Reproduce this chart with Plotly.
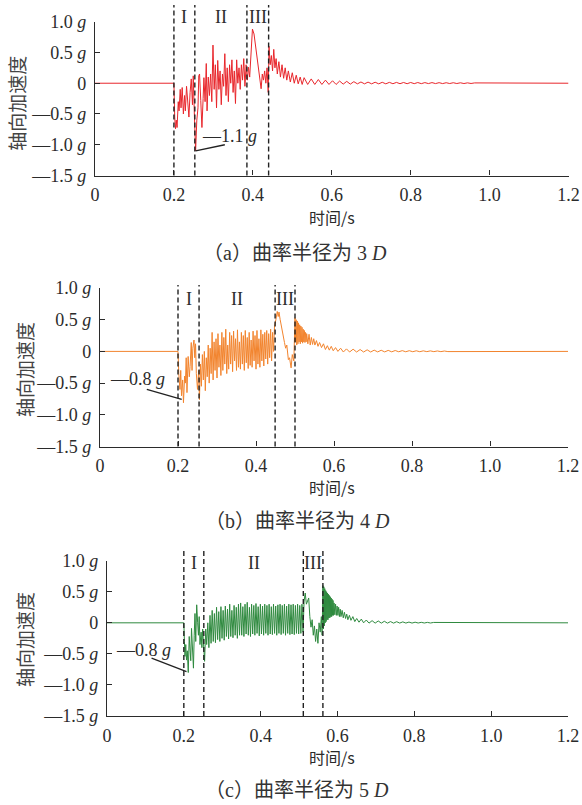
import plotly.graph_objects as go

# ---------------- data ----------------
x_tick_vals = [0, 0.2, 0.4, 0.6, 0.8, 1.0, 1.2]
x_tick_text = ["0", "0.2", "0.4", "0.6", "0.8", "1.0", "1.2"]
y_tick_vals = [1.0, 0.5, 0, -0.5, -1.0, -1.5]
y_tick_text = ["1.0 <i>g</i>", "0.5 <i>g</i>", "0", "—0.5 <i>g</i>", "—1.0 <i>g</i>", "—1.5 <i>g</i>"]

# (time s, axial acceleration g)
red_samples = [
    (0, 0), (0.2, 0),
    (0.202, -0.55), (0.204, -0.74), (0.206, -0.6), (0.208, -0.72), (0.211, -0.3), (0.213, -0.45),
    (0.216, -0.1), (0.218, -0.4), (0.221, -0.07), (0.224, -0.5), (0.227, -0.2), (0.229, -0.45),
    (0.232, -0.05), (0.235, -0.3), (0.238, -0.55), (0.241, -0.15), (0.244, 0.07), (0.247, -0.35),
    (0.249, 0.12), (0.252, -0.55), (0.255, -1.1),
    (0.258, -0.6), (0.261, -0.4), (0.263, 0.12), (0.265, 0.15), (0.268, -0.28), (0.271, -0.72),
    (0.274, -0.25), (0.276, 0.09), (0.279, -0.3), (0.282, 0.32), (0.284, -0.45), (0.287, 0.1),
    (0.290, -0.2), (0.293, 0.15), (0.296, -0.3), (0.299, 0.62), (0.302, -0.1), (0.305, 0.3),
    (0.308, -0.4), (0.311, 0.37), (0.314, -0.1), (0.317, 0.2), (0.320, -0.35), (0.323, 0.15),
    (0.326, -0.05), (0.329, 0.48), (0.332, -0.2), (0.335, 0.25), (0.338, -0.3), (0.341, 0.3),
    (0.344, 0.0), (0.347, 0.38), (0.350, -0.15), (0.353, 0.2), (0.356, -0.33), (0.359, 0.38),
    (0.362, 0.0), (0.365, 0.25), (0.368, -0.1), (0.371, 0.3), (0.374, 0.05), (0.377, 0.4),
    (0.380, -0.05), (0.383, 0.3), (0.386, 0.05),
    (0.389, 0.26), (0.392, 0.1), (0.395, 0.45), (0.399, 0.88), (0.403, 0.8), (0.407, 0.6),
    (0.410, 0.48), (0.414, 0.3), (0.418, 0.1), (0.421, -0.09), (0.424, 0.15), (0.427, 0.05),
    (0.430, 0.2), (0.433, 0.0), (0.436, 0.25), (0.439, -0.15),
    (0.441, 0.6), (0.444, 0.3), (0.447, 0.45), (0.450, 0.2), (0.453, 0.55), (0.456, 0.25),
    (0.459, 0.4), (0.462, 0.15), (0.466, 0.35), (0.470, 0.1), (0.474, 0.3), (0.478, 0.08),
    (0.482, 0.25), (0.486, 0.05), (0.490, 0.2), (0.495, 0.02), (0.500, 0.17), (0.505, 0.0),
    (0.510, 0.13), (0.515, -0.01), (0.520, 0.1), (0.525, -0.02), (0.530, 0.09), (0.539, -0.02),
    (0.548, 0.07), (0.557, -0.02), (0.566, 0.06), (0.575, -0.02), (0.584, 0.05), (0.593, -0.02),
    (0.602, 0.04), (0.611, -0.02), (0.620, 0.035), (0.629, -0.015), (0.638, 0.03), (0.647, -0.015),
    (0.656, 0.025), (0.665, -0.01), (0.674, 0.02), (0.683, -0.01), (0.692, 0.018), (0.701, -0.01),
    (0.710, 0.016), (0.719, -0.01), (0.728, 0.015), (0.737, -0.01), (0.746, 0.014), (0.755, -0.008),
    (0.764, 0.013), (0.773, -0.008), (0.782, 0.012), (0.791, -0.008), (0.800, 0.012), (0.809, -0.007),
    (0.818, 0.011), (0.827, -0.007), (0.836, 0.01), (0.845, -0.006), (0.854, 0.01), (0.863, -0.006),
    (0.872, 0.009), (0.881, -0.006), (0.890, 0.008), (0.899, -0.005), (0.908, 0.008), (0.917, -0.005),
    (0.926, 0.007), (0.935, -0.005), (0.944, 0.006), (0.953, -0.004), (0.962, 0.005), (1.2, 0),
]

orange_samples = [
    (0, 0), (0.2, 0),
    (0.202, -0.35), (0.205, -0.6), (0.207, -0.3), (0.209, -0.7), (0.212, -0.45), (0.214, -0.81),
    (0.217, -0.39), (0.219, -0.5), (0.221, -0.1), (0.223, -0.65), (0.226, -0.08), (0.229, -0.4),
    (0.231, -0.24), (0.234, 0.14), (0.236, -0.3), (0.238, 0.05), (0.241, 0.18), (0.243, -0.1),
    (0.245, 0.12), (0.247, -0.35), (0.250, -0.6), (0.253, -0.3), (0.255, -0.76),
    (0.2575, -0.2), (0.260, -0.55), (0.2625, -0.05), (0.265, -0.45), (0.2675, 0.0), (0.270, -0.62),
    (0.2725, -0.1), (0.275, -0.4), (0.2775, 0.1), (0.280, -0.5), (0.2825, 0.05), (0.285, -0.35),
    (0.2875, 0.3), (0.290, -0.45), (0.2925, 0.15), (0.295, -0.3), (0.2975, 0.2), (0.300, -0.42),
    (0.3025, 0.28), (0.305, -0.25), (0.3075, 0.1), (0.310, -0.38), (0.3125, 0.3), (0.315, -0.3),
    (0.3175, 0.22), (0.320, -0.2), (0.3225, 0.35), (0.325, -0.35), (0.3275, 0.1), (0.330, -0.28),
    (0.3325, 0.3), (0.335, -0.2), (0.3375, 0.25), (0.340, -0.32), (0.3425, 0.32), (0.345, -0.15),
    (0.3475, 0.2), (0.350, -0.3), (0.3525, 0.34), (0.355, -0.25), (0.3575, 0.15), (0.360, -0.28),
    (0.3625, 0.3), (0.365, -0.2), (0.3675, 0.25), (0.370, -0.3), (0.3725, 0.33), (0.375, -0.18),
    (0.3775, 0.22), (0.380, -0.27), (0.3825, 0.3), (0.385, -0.22), (0.3875, 0.18), (0.390, -0.25),
    (0.3925, 0.32), (0.395, -0.15), (0.3975, 0.25), (0.400, -0.28), (0.4025, 0.33), (0.405, -0.2),
    (0.4075, 0.2), (0.410, -0.25), (0.4125, 0.34), (0.415, -0.15), (0.4175, 0.27), (0.420, -0.23),
    (0.4225, 0.3), (0.425, -0.12), (0.4275, 0.33), (0.430, -0.2), (0.4325, 0.28), (0.435, -0.1),
    (0.4375, 0.35), (0.440, -0.15), (0.4425, 0.3), (0.445, 0.0), (0.4475, 0.4),
    (0.451, 0.5), (0.4545, 0.63), (0.457, 0.55), (0.459, 0.62), (0.462, 0.5), (0.466, 0.35),
    (0.470, 0.2), (0.473, 0.14), (0.476, 0.05), (0.479, 0.1), (0.483, -0.13), (0.486, -0.1),
    (0.490, -0.26), (0.493, -0.05), (0.497, -0.15), (0.500, 0.53),
    (0.5015, 0.15), (0.503, 0.5), (0.5045, 0.1), (0.506, 0.48), (0.5075, 0.12), (0.509, 0.45),
    (0.5105, 0.15), (0.512, 0.42), (0.5135, 0.12), (0.515, 0.4), (0.5165, 0.15), (0.518, 0.38),
    (0.5195, 0.13), (0.521, 0.35), (0.5225, 0.15), (0.524, 0.33), (0.5255, 0.14), (0.527, 0.3),
    (0.5285, 0.15), (0.530, 0.28), (0.533, 0.12), (0.536, 0.27), (0.539, 0.1), (0.542, 0.22),
    (0.545, 0.11), (0.548, 0.2), (0.551, 0.1), (0.555, 0.17), (0.559, 0.08), (0.563, 0.14),
    (0.568, 0.06), (0.573, 0.12), (0.578, 0.03), (0.583, 0.09), (0.588, 0.02), (0.593, 0.08),
    (0.598, 0.01), (0.604, 0.06), (0.610, 0.0), (0.617, 0.05), (0.624, -0.01), (0.632, 0.04),
    (0.640, -0.01), (0.649, 0.035), (0.658, -0.01), (0.667, 0.03), (0.676, -0.01), (0.685, 0.025),
    (0.694, -0.01), (0.703, 0.02), (0.712, -0.008), (0.721, 0.018), (0.730, -0.008), (0.739, 0.016),
    (0.748, -0.007), (0.757, 0.014), (0.766, -0.006), (0.775, 0.012), (0.784, -0.006), (0.793, 0.011),
    (0.802, -0.005), (0.811, 0.01), (0.820, -0.005), (0.829, 0.009), (0.838, -0.004), (0.847, 0.008),
    (0.856, -0.004), (0.865, 0.007), (0.874, -0.004), (0.883, 0.006), (0.892, -0.003), (1.2, 0),
]

green_samples = [
    (0, 0), (0.2, 0),
    (0.2015, -0.3), (0.203, -0.54), (0.205, -0.35), (0.207, -0.6), (0.209, -0.45), (0.2115, -0.8),
    (0.214, -0.22), (0.216, -0.5), (0.218, -0.61), (0.220, -0.09), (0.2225, -0.52), (0.225, -0.73),
    (0.227, -0.2), (0.229, 0.15), (0.231, -0.3), (0.2335, 0.29), (0.236, 0.0), (0.238, -0.2),
    (0.240, 0.1), (0.242, -0.35), (0.245, -0.15), (0.247, -0.4), (0.249, -0.1), (0.252, -0.45),
    (0.254, -0.62), (0.257, -0.1),
    (0.2595, -0.35), (0.2624, 0.0), (0.2652, -0.4), (0.2681, 0.12), (0.2709, -0.33), (0.2738, 0.2),
    (0.2766, -0.3), (0.2795, 0.15), (0.2823, -0.32), (0.2852, 0.25), (0.2880, -0.27), (0.2909, 0.18),
    (0.2937, -0.3), (0.2966, 0.26), (0.2994, -0.25), (0.3023, 0.2), (0.3051, -0.28), (0.3080, 0.27),
    (0.3108, -0.22), (0.3137, 0.22), (0.3165, -0.26), (0.3194, 0.3), (0.3222, -0.22), (0.3251, 0.2),
    (0.3279, -0.24), (0.3308, 0.28), (0.3336, -0.2), (0.3365, 0.25), (0.3393, -0.25), (0.3422, 0.3),
    (0.3450, -0.2), (0.3479, 0.32), (0.3507, -0.2), (0.3536, 0.26), (0.3564, -0.22), (0.3593, 0.3),
    (0.3621, -0.18), (0.3650, 0.33), (0.3678, -0.2), (0.3707, 0.25), (0.3735, -0.22), (0.3764, 0.3),
    (0.3792, -0.18), (0.3821, 0.28), (0.3849, -0.2), (0.3878, 0.31), (0.3906, -0.17), (0.3935, 0.26),
    (0.3963, -0.21), (0.3992, 0.3), (0.4020, -0.18), (0.4049, 0.27), (0.4077, -0.2), (0.4106, 0.3),
    (0.4134, -0.17), (0.4163, 0.28), (0.4191, -0.2), (0.4220, 0.3), (0.4248, -0.18), (0.4277, 0.26),
    (0.4305, -0.19), (0.4334, 0.3), (0.4362, -0.17), (0.4391, 0.27), (0.4419, -0.2), (0.4448, 0.29),
    (0.4476, -0.17), (0.4505, 0.3), (0.4533, -0.19), (0.4562, 0.28), (0.4590, -0.17), (0.4619, 0.3),
    (0.4647, -0.2), (0.4676, 0.27), (0.4704, -0.17), (0.4733, 0.3), (0.4761, -0.19), (0.4790, 0.29),
    (0.4818, -0.18), (0.4847, 0.3), (0.4875, -0.19), (0.4904, 0.28), (0.4932, -0.17), (0.4961, 0.3),
    (0.4989, -0.18), (0.5018, 0.28), (0.5046, -0.17), (0.5075, 0.3), (0.5103, -0.15), (0.5130, 0.35),
    (0.516, 0.48), (0.519, 0.3), (0.522, 0.37), (0.525, 0.4), (0.528, 0.1), (0.531, -0.07),
    (0.534, 0.05), (0.537, -0.2), (0.540, -0.05), (0.543, -0.3), (0.546, -0.1), (0.549, -0.33),
    (0.552, 0.0), (0.555, -0.15), (0.558, 0.1), (0.560, -0.2), (0.562, 0.6),
    (0.5632, -0.1), (0.5644, 0.58), (0.5656, -0.05), (0.5668, 0.55), (0.5680, 0.0), (0.5692, 0.52),
    (0.5704, 0.02), (0.5716, 0.5), (0.5728, 0.05), (0.5740, 0.48), (0.5752, 0.05), (0.5764, 0.46),
    (0.5776, 0.08), (0.5788, 0.44), (0.5800, 0.08), (0.5812, 0.42), (0.5824, 0.1), (0.5836, 0.4),
    (0.5848, 0.1), (0.5860, 0.38), (0.5872, 0.12), (0.5884, 0.36), (0.5896, 0.12), (0.591, 0.32),
    (0.593, 0.13), (0.595, 0.3), (0.597, 0.12), (0.599, 0.27), (0.601, 0.12), (0.603, 0.25),
    (0.605, 0.1), (0.607, 0.22), (0.609, 0.1), (0.612, 0.2), (0.615, 0.08), (0.618, 0.17),
    (0.621, 0.07), (0.624, 0.14), (0.627, 0.05), (0.631, 0.12), (0.635, 0.04), (0.640, 0.1),
    (0.645, 0.02), (0.650, 0.07), (0.656, 0.01), (0.662, 0.06), (0.668, 0.0), (0.675, 0.045),
    (0.682, -0.005), (0.690, 0.035), (0.698, -0.005), (0.706, 0.03), (0.714, -0.005), (0.722, 0.025),
    (0.730, -0.005), (0.738, 0.02), (0.746, -0.005), (0.754, 0.018), (0.762, -0.004), (0.770, 0.015),
    (0.778, -0.004), (0.786, 0.012), (0.794, -0.004), (0.802, 0.01), (0.810, -0.003), (0.818, 0.008),
    (0.826, -0.003), (0.834, 0.007), (0.842, -0.003), (0.850, 0.006), (1.2, 0),
]

stage_bounds_a = [0.2, 0.253, 0.385, 0.44]
stage_bounds_b = [0.2, 0.254, 0.449, 0.5]
stage_bounds_c = [0.2, 0.252, 0.511, 0.562]
stage_names = ["I", "II", "III"]

peak_a = {"t": 0.255, "acc": -1.1, "label": "—1.1 <i>g</i>"}
peak_b = {"t": 0.2095, "acc": -0.757, "label": "—0.8 <i>g</i>"}
peak_c = {"t": 0.207, "acc": -0.785, "label": "—0.8 <i>g</i>"}

captions = ["（a）曲率半径为 3 <i>D</i>", "（b）曲率半径为 4 <i>D</i>", "（c）曲率半径为 5 <i>D</i>"]
y_title = "轴向加速度"
x_title = "时间/s"

# ---------------- layout geometry (pixels -> paper) ----------------
W, H = 582, 805
SERIF = "Liberation Serif, Times New Roman, serif"
MIXED = "Liberation Serif, Noto Sans CJK SC"
CJK = "Noto Sans CJK SC"
INK = "#2b2b2b"

panels = [
    dict(samples=red_samples, color="#e8262b", bounds=stage_bounds_a, peak=peak_a,
         x0=95, x1=568.5, ybot=175.5, ytop=21.7, dash_top=5, stage_y=17,
         peak_text=(0.342, -0.854), peak_end=(0.329, -1.0),
         ylab=(16.7, 103), xlab=(332, 217), cap=(295, 253)),
    dict(samples=orange_samples, color="#f2842e", bounds=stage_bounds_b, peak=peak_b,
         x0=100, x1=568, ybot=446.5, ytop=288, dash_top=285, stage_y=299,
         peak_text=(0.096, -0.44), peak_end=(0.12, -0.6),
         ylab=(24, 370), xlab=(332, 487), cap=(297, 521)),
    dict(samples=green_samples, color="#2f8a3f", bounds=stage_bounds_c, peak=peak_c,
         x0=107, x1=568, ybot=716, ytop=560.7, dash_top=550, stage_y=563,
         peak_text=(0.094, -0.435), peak_end=(0.116, -0.57),
         ylab=(24, 640), xlab=(332, 757), cap=(297, 790)),
]

fig = go.Figure()
shapes = []
annotations = []
layout_axes = {}

for i, p in enumerate(panels):
    n = "" if i == 0 else str(i + 1)
    xa, ya = "x" + n, "y" + n
    ts = [s[0] for s in p["samples"]]
    vs = [s[1] for s in p["samples"]]
    fig.add_trace(go.Scatter(x=ts, y=vs, mode="lines", xaxis=xa, yaxis=ya,
                             line=dict(color=p["color"], width=1.0), showlegend=False,
                             hoverinfo="skip"))
    layout_axes["xaxis" + n] = dict(
        domain=[p["x0"] / W, p["x1"] / W], range=[0, 1.2], anchor=ya, automargin=False,
        tickvals=x_tick_vals, ticktext=x_tick_text, ticks="inside", ticklen=5,
        tickwidth=1.2, tickcolor=INK, showline=True, linecolor=INK, linewidth=1.4,
        showgrid=False, zeroline=False, ticklabelstandoff=3,
        tickfont=dict(family=SERIF, size=18, color=INK))
    layout_axes["yaxis" + n] = dict(
        domain=[1 - p["ybot"] / H, 1 - p["ytop"] / H], range=[-1.5, 1.0], anchor=xa,
        automargin=False,
        tickvals=y_tick_vals, ticktext=y_tick_text, ticks="inside", ticklen=5,
        tickwidth=1.2, tickcolor=INK, showline=True, linecolor=INK, linewidth=1.4,
        showgrid=False, zeroline=False, ticklabelstandoff=4,
        tickfont=dict(family=SERIF, size=18, color=INK))
    # stage boundaries
    for b in p["bounds"]:
        shapes.append(dict(type="line", xref=xa, yref="paper", x0=b, x1=b,
                           y0=1 - p["ybot"] / H, y1=1 - p["dash_top"] / H,
                           line=dict(color="#222", width=1.4, dash="5px,3px")))
    for k, name in enumerate(stage_names):
        mid = (p["bounds"][k] + p["bounds"][k + 1]) / 2
        annotations.append(dict(x=mid, y=1 - p["stage_y"] / H, xref=xa, yref="paper",
                                text=name, showarrow=False, xanchor="center", yanchor="middle",
                                font=dict(family=SERIF, size=18, color=INK)))
    # peak label and leader
    pk = p["peak"]
    shapes.append(dict(type="line", xref=xa, yref=ya, x0=pk["t"], y0=pk["acc"],
                       x1=p["peak_end"][0], y1=p["peak_end"][1],
                       line=dict(color="#222", width=1.3)))
    annotations.append(dict(x=p["peak_text"][0], y=p["peak_text"][1], xref=xa, yref=ya,
                            text=pk["label"], showarrow=False, xanchor="center",
                            yanchor="middle", font=dict(family=SERIF, size=18, color=INK)))
    # axis titles and caption
    annotations.append(dict(x=p["ylab"][0] / W, y=1 - p["ylab"][1] / H, xref="paper",
                            yref="paper", text=y_title, textangle=-90, showarrow=False,
                            xanchor="center", yanchor="middle",
                            font=dict(family=CJK, size=19, color="#444")))
    annotations.append(dict(x=p["xlab"][0] / W, y=1 - p["xlab"][1] / H, xref="paper",
                            yref="paper", text=x_title, showarrow=False,
                            xanchor="center", yanchor="middle",
                            font=dict(family=CJK, size=16, color=INK)))
    annotations.append(dict(x=p["cap"][0] / W, y=1 - p["cap"][1] / H, xref="paper",
                            yref="paper", text=captions[i], showarrow=False,
                            xanchor="center", yanchor="middle",
                            font=dict(family=MIXED, size=20, color="#333")))

fig.update_layout(width=W, height=H, autosize=False,
                  margin=dict(l=0, r=0, t=0, b=0, autoexpand=False),
                  paper_bgcolor="white", plot_bgcolor="white",
                  shapes=shapes, annotations=annotations, **layout_axes)

fig.write_html("out.html")
